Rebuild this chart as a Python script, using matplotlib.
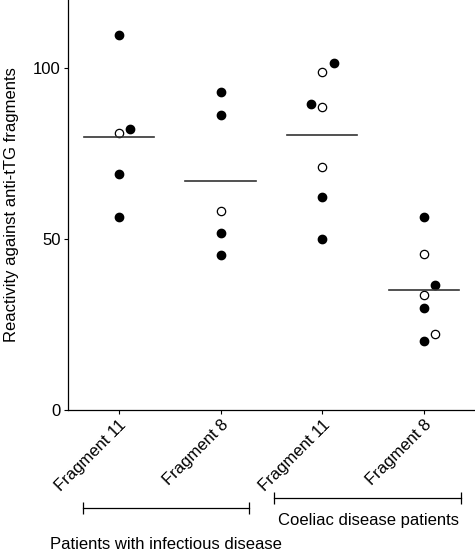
import numpy as np
import matplotlib.pyplot as plt

plt.rcParams['font.family'] = ['Liberation Sans', 'DejaVu Sans']

categories = ["Fragment 11", "Fragment 8", "Fragment 11", "Fragment 8"]

# (category, x offset, value) for each patient
filled_cat = [1, 1, 1, 1, 2, 2, 2, 2, 3, 3, 3, 3, 4, 4, 4, 4]
filled_off = [0, 0.11, 0, 0, 0, 0, 0, 0, 0.11, -0.11, 0, 0, 0, 0.11, 0, 0]
filled_val = [109.7, 82.1, 69.2, 56.4, 93.2, 86.3, 51.7, 45.4,
              101.6, 89.7, 62.4, 50.1, 56.4, 36.6, 29.8, 20.3]

open_cat = [1, 2, 3, 3, 3, 4, 4, 4]
open_off = [0, 0, 0, 0, 0, 0, 0, 0.11]
open_val = [81.2, 58.1, 98.9, 88.7, 71.2, 45.6, 33.7, 22.3]

means = [79.8, 67.0, 80.4, 35.0]

groups = ["Patients with infectious disease", "Coeliac disease patients"]

fig = plt.figure(figsize=(4.75, 5.53), dpi=100)
ax = fig.add_axes([0.143, 0.2586, 0.857, 0.7414])

ax.plot(np.array(filled_cat) + np.array(filled_off), filled_val, 'o',
        color='black', markersize=6, clip_on=False)
ax.plot(np.array(open_cat) + np.array(open_off), open_val, 'o',
        markerfacecolor='white', markeredgecolor='black', markeredgewidth=0.9,
        markersize=6, clip_on=False)

for i, m in enumerate(means):
    ax.plot([i + 1 - 0.345, i + 1 + 0.345], [m, m], color='#333333', lw=1.2)

ax.set_xlim(0.5, 4.5)
ax.set_ylim(0, 120)
ax.set_yticks([0, 50, 100])
ax.set_xticks([1, 2, 3, 4])
ax.set_xticklabels(categories, rotation=45, ha='right', rotation_mode='anchor')
ax.tick_params(labelsize=12, direction='out', length=3, width=0.8, pad=2)
ax.set_ylabel("Reactivity against anti-tTG fragments", fontsize=12, labelpad=10)
for s in ['top', 'right']:
    ax.spines[s].set_visible(False)
for s in ['left', 'bottom']:
    ax.spines[s].set_linewidth(0.9)

# group brackets below the tick labels
trans = ax.get_xaxis_transform()
brackets = [(0.647, 2.275, -0.239, -0.327, 1.46), (2.529, 4.363, -0.2146, -0.27, 3.45)]
for (x0, x1, yb, yt, xt), g in zip(brackets, groups):
    ax.plot([x0, x1], [yb, yb], color='black', lw=0.9, transform=trans, clip_on=False)
    ax.plot([x0, x1], [yb, yb], '|', color='black', markersize=8, mew=0.9,
            transform=trans, clip_on=False)
    ax.text(xt, yt, g, transform=trans, ha='center', va='center', fontsize=12)

fig.savefig("out.png", dpi=100)
